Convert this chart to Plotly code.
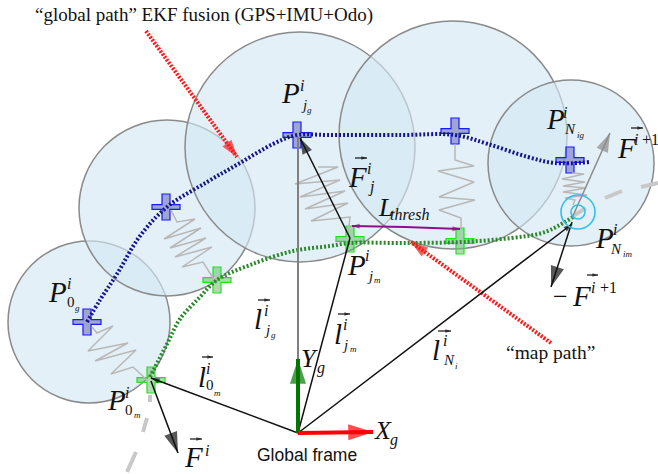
import plotly.graph_objects as go

# ---------- data (in picture pixels) ----------
circle_x = [89, 167, 300, 453, 571]
circle_y = [322, 208, 147, 135, 163]
circle_r = [81, 88, 115, 114, 83]

global_x = [87, 100, 117, 140, 167, 207, 240, 273, 297, 328, 401, 455, 488, 528, 555, 590]
global_y = [322, 300, 274, 236, 207, 182, 163, 144, 135, 135, 135, 135, 144, 157, 163, 162]
map_x = [150, 167, 180, 200, 217, 250, 293, 330, 350, 405, 461, 511, 545, 573]
map_y = [377, 344, 319, 297, 280, 265, 251, 246, 243, 243, 242, 238, 232, 217]

global_cross_x = [87, 166, 297, 455, 570]
global_cross_y = [322, 207, 135, 131, 160]
map_cross_x = [151, 217, 350, 460]
map_cross_y = [380, 280, 239, 241]

springs = [
    ([92, 97, 113, 88, 128, 95, 136, 111, 133, 147],
     [327, 333, 326, 351, 343, 361, 350, 374, 367, 380]),
    ([171, 177, 195, 164, 201, 170, 206, 175, 212, 182, 203, 213],
     [210, 222, 219, 239, 228, 248, 238, 257, 247, 267, 262, 278]),
    ([318, 338, 295, 340, 300, 345, 305, 348, 311, 350, 348],
     [167, 167, 184, 180, 197, 191, 209, 203, 221, 217, 237]),
    ([455, 455, 474, 438, 474, 439, 475, 439, 461, 461],
     [144, 160, 166, 171, 182, 197, 200, 210, 218, 228]),
    ([572, 584, 562, 585, 563, 586, 563, 587, 565, 575, 573],
     [173, 174, 179, 182, 186, 188, 192, 195, 198, 200, 205]),
]

dash_segments = [
    ([150, 150], [395, 402]), ([147, 143], [418, 432]), ([136, 127], [452, 472]),
    ([573, 586], [216, 208]), ([605, 622], [198, 191]), ([641, 658], [187, 183]),
]

#          x0   y0   x1   y1  colour     width head
arrows = [
    (146, 31, 237, 157, "#ff1a1a", 4, 18, "2px,1.5px"),
    (551, 343, 411, 242, "#ff1a1a", 4, 18, "2px,1.5px"),
    (298, 433, 298, 137, "#808080", 2, 0, "solid"),
    (298, 433, 151, 378, "#111111", 1.5, 9, "solid"),
    (298, 433, 350, 238, "#111111", 1.5, 0, "solid"),
    (298, 433, 572, 224, "#111111", 1.5, 9, "solid"),
    (350, 238, 300, 138, "#111111", 1.5, 17, "solid"),
    (151, 381, 178, 453, "#111111", 1.5, 22, "solid"),
    (572, 222, 551, 287, "#111111", 1.5, 22, "solid"),
    (572, 218, 610, 133, "#8a8a8a", 1.5, 20, "solid"),
    (298, 433, 298, 359, "#007800", 4, 26, "solid"),
    (298, 433, 373, 432, "#ff0000", 4, 26, "solid"),
    (405, 227, 352, 226, "#8b108b", 2, 8, "solid"),
    (405, 227, 460, 229, "#8b108b", 2, 8, "solid"),
]
vector_bars = [(202, 213, 357), (258, 270, 300), (190, 202, 439), (355, 367, 158),
               (631, 643, 128), (338, 350, 314), (438, 451, 331), (587, 598, 275)]

SERIF = "Liberation Serif"
SANS = "Liberation Sans"
labels = [
    ("“global path” EKF fusion (GPS+IMU+Odo)", 204, 15, 19, SERIF),
    ("“map path”", 550, 352, 19.5, SERIF),
    ("Global frame", 307, 455, 17.5, SANS),
    ("−", 560, 296, 26, SERIF),
    ("<i>P</i>", 290, 93, 29, SERIF), ("<i>i</i>", 302, 85, 16, SERIF), ("<i>j</i>", 304, 105, 15, SERIF), ("<i>g</i>", 309, 110, 9, SERIF),
    ("<i>P</i>", 57, 292, 29, SERIF), ("<i>i</i>", 69, 283, 16, SERIF), ("0", 71, 302, 15, SERIF), ("<i>g</i>", 77, 308, 9, SERIF),
    ("<i>P</i>", 116, 400, 29, SERIF), ("<i>i</i>", 127, 392, 16, SERIF), ("0", 129, 410, 15, SERIF), ("<i>m</i>", 137, 415, 9, SERIF),
    ("<i>l</i>", 202, 377, 29, SERIF), ("<i>i</i>", 208, 368, 16, SERIF), ("0", 210, 385, 15, SERIF), ("<i>m</i>", 217, 393, 9, SERIF),
    ("<i>l</i>", 258, 319, 29, SERIF), ("<i>i</i>", 266, 310, 16, SERIF), ("<i>j</i>", 267, 330, 15, SERIF), ("<i>g</i>", 273, 335, 9, SERIF),
    ("<i>Y</i>", 309, 358, 26, SERIF), ("<i>g</i>", 321, 368, 16, SERIF),
    ("<i>X</i>", 383, 430, 26, SERIF), ("<i>g</i>", 394, 440, 16, SERIF),
    ("<i>F</i>", 193, 457, 29, SERIF), ("<i>i</i>", 207, 450, 16, SERIF),
    ("<i>F</i>", 357, 177, 29, SERIF), ("<i>i</i>", 369, 168, 16, SERIF), ("<i>j</i>", 371, 187, 16, SERIF),
    ("<i>L</i>", 385, 207, 26, SERIF), ("<i>thresh</i>", 409, 214, 16, SERIF),
    ("<i>P</i>", 555, 119, 29, SERIF), ("<i>i</i>", 565, 112, 16, SERIF), ("<i>N</i>", 570, 129, 15, SERIF), ("<i>ig</i>", 581, 135, 9, SERIF),
    ("<i>F</i>", 626, 148, 29, SERIF), ("<i>i</i>", 636, 139, 16, SERIF), ("+1", 650, 139, 16, SERIF),
    ("<i>P</i>", 604, 238, 29, SERIF), ("<i>i</i>", 615, 229, 16, SERIF), ("<i>N</i>", 616, 249, 15, SERIF), ("<i>im</i>", 628, 254, 9, SERIF),
    ("<i>P</i>", 356, 265, 29, SERIF), ("<i>i</i>", 367, 255, 16, SERIF), ("<i>j</i>", 370, 276, 15, SERIF), ("<i>m</i>", 377, 280, 9, SERIF),
    ("<i>l</i>", 338, 334, 29, SERIF), ("<i>i</i>", 345, 324, 16, SERIF), ("<i>j</i>", 345, 345, 15, SERIF), ("<i>m</i>", 353, 349, 9, SERIF),
    ("<i>l</i>", 436, 350, 29, SERIF), ("<i>i</i>", 445, 340, 16, SERIF), ("<i>N</i>", 449, 360, 15, SERIF), ("<i>i</i>", 456, 366, 9, SERIF),
    ("<i>F</i>", 581, 296, 29, SERIF), ("<i>i</i>", 593, 287, 16, SERIF), ("+1", 608, 287, 16, SERIF),
]
target_x, target_y = 578, 212
target_r = [17, 7]

# ---------- figure ----------
fig = go.Figure()
shapes = []
for cx, cy, r in zip(circle_x, circle_y, circle_r):
    shapes.append(dict(type="circle", xref="x", yref="y", x0=cx - r, x1=cx + r, y0=cy - r, y1=cy + r,
                       fillcolor="rgba(211,231,243,0.64)", line=dict(color="#8a8a8a", width=1.5), layer="below"))


def cross(cx, cy, fill, edge):
    hw, hh, tw, th = 14, 13, 4, 2.3
    pts = [(-tw, -hh), (tw, -hh), (tw, -th), (hw, -th), (hw, th), (tw, th), (tw, hh), (-tw, hh),
           (-tw, th), (-hw, th), (-hw, -th), (-tw, -th)]
    path = "M" + " L".join(f"{cx + a},{cy + b}" for a, b in pts) + " Z"
    return dict(type="path", xref="x", yref="y", path=path, fillcolor=fill,
                line=dict(color=edge, width=1.2), layer="below")


for cx, cy in zip(global_cross_x, global_cross_y):
    shapes.append(cross(cx, cy, "rgba(90,90,180,0.5)", "#1a1aff"))
for cx, cy in zip(map_cross_x, map_cross_y):
    shapes.append(cross(cx, cy, "rgba(110,190,110,0.55)", "#22e022"))
for r in target_r:
    shapes.append(dict(type="circle", xref="x", yref="y", x0=target_x - r, x1=target_x + r,
                       y0=target_y - r, y1=target_y + r, line=dict(color="#2fc0f0", width=1.6)))


def line(x, y, color, width, dash="solid", shape="linear"):
    fig.add_trace(go.Scatter(x=x, y=y, mode="lines", hoverinfo="skip",
                             line=dict(color=color, width=width, dash=dash, shape=shape)))


for x, y in dash_segments:
    line(x, y, "#c8c8c8", 4)
for x, y in springs:
    line(x, y, "#b8b8b8", 1.5)
line(global_x, global_y, "#16168c", 4, "2px,2px", "spline")
line(map_x, map_y, "#2a8a2a", 4, "2px,2px", "spline")

for x0, y0, x1, y1, color, width, head, dash in arrows:
    line([x0, x1], [y0, y1], color, width, dash)
    if head:
        fig.add_trace(go.Scatter(x=[x0, x1], y=[y0, y1], mode="markers", hoverinfo="skip",
                                 marker=dict(symbol="arrow", size=[0, head], color=color,
                                             angleref="previous", line=dict(width=0))))
for x0, x1, y in vector_bars:
    line([x0, x1], [y, y], "#111111", 1.2)
    fig.add_trace(go.Scatter(x=[x0, x1], y=[y, y], mode="markers", hoverinfo="skip",
                             marker=dict(symbol="arrow", size=[0, 6], color="#111111",
                                         angleref="previous", line=dict(width=0))))

annotations = [dict(text=t, x=x, y=y, xref="x", yref="y", showarrow=False, xanchor="center", yanchor="middle",
                    font=dict(family=fam, size=s, color="#111111")) for t, x, y, s, fam in labels]

fig.update_layout(
    width=658, height=474, margin=dict(l=0, r=0, t=0, b=0), showlegend=False,
    paper_bgcolor="white", plot_bgcolor="white", shapes=shapes, annotations=annotations,
    xaxis=dict(range=[0, 658], visible=False, fixedrange=True),
    yaxis=dict(range=[474, 0], visible=False, fixedrange=True),
)
fig.write_html("out.html", config=dict(displayModeBar=False),
               post_script="document.body.style.margin='0';document.body.style.overflow='hidden';")
